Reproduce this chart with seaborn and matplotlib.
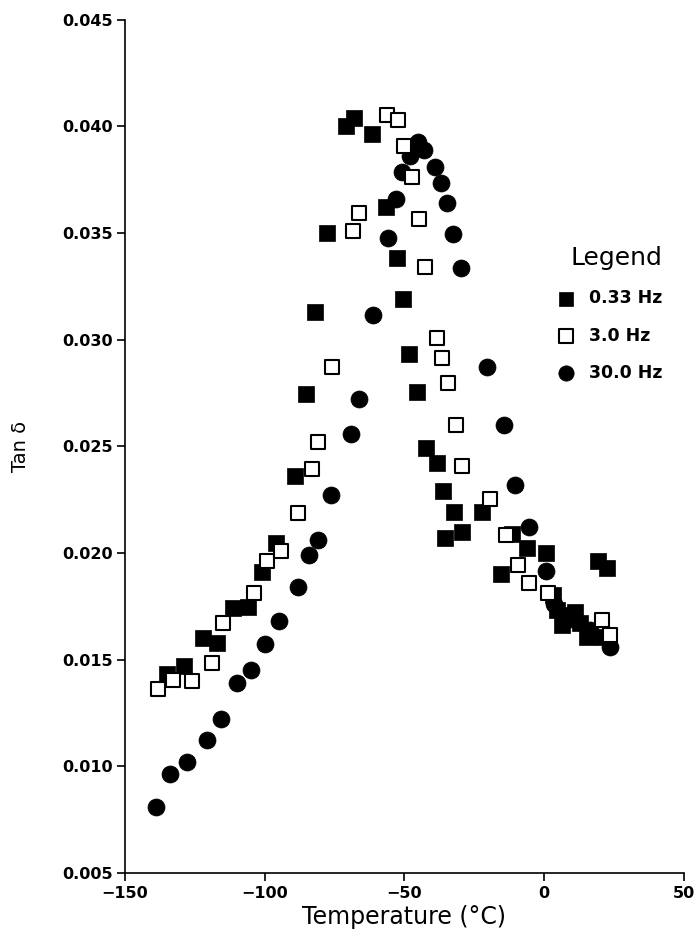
import matplotlib
matplotlib.use("Agg")
import matplotlib.pyplot as plt
import seaborn as sns
import pandas as pd

# 0.33 Hz (filled squares)
t_033 = [-135.1, -128.9, -122.0, -117.0, -111.3, -105.9, -101.1, -96.1, -89.0, -85.2,
         -82.0, -77.6, -70.9, -68.1, -61.5, -56.6, -52.6, -50.7, -48.4, -45.4,
         -42.4, -38.3, -36.3, -35.5, -32.3, -29.3, -22.4, -15.5, -11.6, -6.3,
         0.6, 3.2, 4.4, 6.2, 8.0, 11.0, 12.8, 15.2, 19.3, 21.1, 22.3]
tan_033 = [0.01433, 0.01470, 0.01600, 0.01579, 0.01741, 0.01748, 0.01912, 0.02048, 0.02361, 0.02743,
           0.03131, 0.03501, 0.04001, 0.04037, 0.03962, 0.03623, 0.03381, 0.03190, 0.02932, 0.02753,
           0.02490, 0.02420, 0.02290, 0.02071, 0.02193, 0.02100, 0.02193, 0.01901, 0.02087, 0.02022,
           0.02001, 0.01803, 0.01733, 0.01662, 0.01709, 0.01725, 0.01670, 0.01607, 0.01964, 0.01607, 0.01928]

# 3.0 Hz (open squares)
t_30 = [-138.1, -132.7, -125.9, -118.9, -114.8, -103.8, -99.1, -94.0, -88.0, -83.2,
        -81.1, -76.1, -68.5, -66.3, -56.2, -52.2, -50.2, -47.4, -44.7, -42.7,
        -38.5, -36.5, -34.3, -31.4, -29.3, -19.4, -13.5, -9.3, -5.5, 1.4, 20.5, 23.5]
tan_30 = [0.01361, 0.01405, 0.01400, 0.01483, 0.01670, 0.01811, 0.01961, 0.02011, 0.02186, 0.02392,
          0.02521, 0.02873, 0.03511, 0.03592, 0.04052, 0.04029, 0.03907, 0.03760, 0.03564, 0.03342,
          0.03006, 0.02915, 0.02795, 0.02600, 0.02409, 0.02251, 0.02084, 0.01943, 0.01860, 0.01811,
          0.01686, 0.01615]

# 30.0 Hz (filled circles)
t_300 = [-138.9, -133.9, -127.7, -120.8, -115.8, -109.8, -104.9, -99.9, -94.9, -88.0,
         -84.2, -81.1, -76.4, -69.1, -66.2, -61.4, -55.8, -53.0, -51.0, -48.0,
         -45.1, -43.0, -39.1, -36.9, -34.9, -32.8, -29.8, -20.6, -14.4, -10.5,
         -5.3, 0.6, 3.5, 9.2, 16.4, 23.5]
tan_300 = [0.00811, 0.00963, 0.01022, 0.01123, 0.01223, 0.01392, 0.01451, 0.01572, 0.01681, 0.01839,
           0.01990, 0.02061, 0.02270, 0.02557, 0.02721, 0.03115, 0.03475, 0.03659, 0.03787, 0.03860,
           0.03927, 0.03888, 0.03810, 0.03735, 0.03641, 0.03493, 0.03334, 0.02873, 0.02600, 0.02318,
           0.02123, 0.01914, 0.0176, 0.0169, 0.0164, 0.01561]

labels = ["0.33 Hz", "3.0 Hz", "30.0 Hz"]
x_ticks = [-150, -100, -50, 0, 50]
y_ticks = [0.005, 0.010, 0.015, 0.020, 0.025, 0.030, 0.035, 0.040, 0.045]

sns.set_style("ticks")
plt.rcParams["font.family"] = ["DejaVu Sans"]
plt.rcParams.update({"text.color": "black", "axes.labelcolor": "black",
                     "xtick.color": "black", "ytick.color": "black",
                     "axes.edgecolor": "black"})

fig = plt.figure(figsize=(6.97, 9.34), dpi=100)
ax = fig.add_axes([0.1793, 0.0653, 0.802, 0.9138])

df1 = pd.DataFrame({"T": t_033, "tan": tan_033})
df2 = pd.DataFrame({"T": t_30, "tan": tan_30})
df3 = pd.DataFrame({"T": t_300, "tan": tan_300})

sns.scatterplot(data=df3, x="T", y="tan", ax=ax, marker="o", s=150,
                color="black", edgecolor="black", linewidth=0.5, label=labels[2], zorder=3)
sns.scatterplot(data=df1, x="T", y="tan", ax=ax, marker="s", s=140,
                color="black", edgecolor="black", linewidth=0.5, label=labels[0], zorder=3)
sns.scatterplot(data=df2, x="T", y="tan", ax=ax, marker="s", s=115,
                facecolor="white", edgecolor="black", linewidth=1.5, label=labels[1], zorder=4)

ax.set_xlim(-150, 50)
ax.set_ylim(0.005, 0.045)
ax.set_xticks(x_ticks)
ax.set_yticks(y_ticks)
ax.set_xticklabels([str(v).replace("-", "\u2212") for v in x_ticks])
ax.set_yticklabels([f"{v:.3f}" for v in y_ticks])
sns.despine(ax=ax)
for sp in ["left", "bottom"]:
    ax.spines[sp].set_linewidth(1.2)
ax.tick_params(axis="both", direction="out", length=6, width=1.2,
               labelsize=11.5, pad=3)
for lab in ax.get_xticklabels() + ax.get_yticklabels():
    lab.set_fontweight("bold")

ax.set_xlabel("Temperature (°C)", fontsize=17, labelpad=3)
ax.set_ylabel("Tan δ", fontsize=14, labelpad=23)

h, l = ax.get_legend_handles_labels()
order = [l.index(x) for x in labels]
leg = ax.legend([h[i] for i in order], [l[i] for i in order], title="Legend",
                frameon=False, loc="upper left",
                bbox_to_anchor=(0.765, 0.753), bbox_transform=fig.transFigure,
                prop={"size": 12.5, "weight": "semibold"}, title_fontsize=18,
                labelspacing=1.1, handletextpad=0.3, markerscale=0.9)
leg._legend_box.align = "right"

fig.savefig("out.png", dpi=100)
